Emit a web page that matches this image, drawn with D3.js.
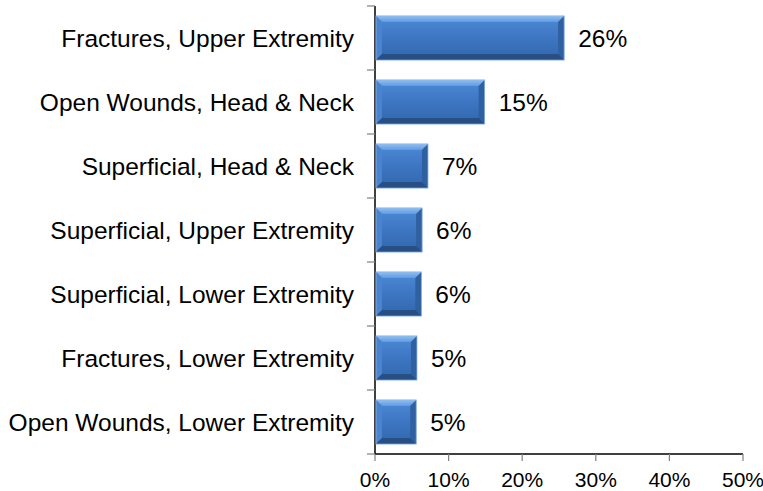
<!DOCTYPE html>
<html><head><meta charset="utf-8">
<script src="https://cdn.jsdelivr.net/npm/d3@7"></script>
<style>html,body{margin:0;padding:0;background:#fff;overflow:hidden}svg{display:block}</style>
</head><body>
<svg id="chart" width="763" height="491"></svg>
<script>
const categories = ["Fractures, Upper Extremity","Open Wounds, Head & Neck","Superficial, Head & Neck","Superficial, Upper Extremity","Superficial, Lower Extremity","Fractures, Lower Extremity","Open Wounds, Lower Extremity"];
const values = [25.7, 14.9, 7.2, 6.4, 6.3, 5.7, 5.6];
const valueLabels = ["26%","15%","7%","6%","6%","5%","5%"];
const xTicks = [0,10,20,30,40,50];

const svg = d3.select("#chart");
const font = "'Liberation Sans', Arial, sans-serif";
const x = d3.scaleLinear().domain([0,50]).range([375,743]);
const y = d3.scaleBand().domain(categories).range([6,454]).paddingInner(0.31).paddingOuter(0.155);

const defs = svg.append("defs");
const g1 = defs.append("linearGradient").attr("id","face").attr("x1",0).attr("y1",0).attr("x2",0).attr("y2",1);
g1.append("stop").attr("offset","0%").attr("stop-color","#4f8ad6");
g1.append("stop").attr("offset","55%").attr("stop-color","#3b74c0");
g1.append("stop").attr("offset","100%").attr("stop-color","#3367ad");
const gt = defs.append("linearGradient").attr("id","topb").attr("x1",0).attr("y1",0).attr("x2",0).attr("y2",1);
gt.append("stop").attr("offset","0%").attr("stop-color","#8fc0f4");
gt.append("stop").attr("offset","100%").attr("stop-color","#5e9ae2");

// y axis
svg.append("line").attr("x1",375).attr("x2",375).attr("y1",6).attr("y2",454).attr("stroke","#000").attr("stroke-width",1.5);
const bandStep = y.step();
d3.range(categories.length+1).forEach(i=>{
  const yy = 6 + i*bandStep;
  svg.append("line").attr("x1",367).attr("x2",375).attr("y1",yy).attr("y2",yy).attr("stroke","#808080").attr("stroke-width",1.2);
});
// x axis
svg.append("line").attr("x1",375).attr("x2",x(50)).attr("y1",454).attr("y2",454).attr("stroke","#000").attr("stroke-width",1.5);
xTicks.forEach(t=>{
  svg.append("line").attr("x1",x(t)).attr("x2",x(t)).attr("y1",454).attr("y2",461).attr("stroke","#808080").attr("stroke-width",1.2);
  svg.append("text").attr("x",x(t)).attr("y",487).attr("text-anchor","middle")
    .attr("font-family",font).attr("font-size",21).attr("fill","#000").text(t+"%");
});

// bars
const bev = 6;
categories.forEach((c,i)=>{
  const x0 = x(0)+1, x1 = x(values[i]), y0 = y(c), h = y.bandwidth(), y1 = y0+h;
  const g = svg.append("g");
  g.append("rect").attr("x",x0).attr("y",y0).attr("width",x1-x0).attr("height",h).attr("fill","url(#face)");
  g.append("polygon").attr("points",[[x0,y0],[x1,y0],[x1-bev,y0+bev],[x0+bev,y0+bev]].join(" ")).attr("fill","url(#topb)");
  g.append("polygon").attr("points",[[x0,y0],[x0+bev,y0+bev],[x0+bev,y1-bev],[x0,y1]].join(" ")).attr("fill","#4a84d0");
  g.append("polygon").attr("points",[[x1,y0],[x1,y1],[x1-bev,y1-bev],[x1-bev,y0+bev]].join(" ")).attr("fill","#2f609f");
  g.append("polygon").attr("points",[[x0,y1],[x1,y1],[x1-bev,y1-bev],[x0+bev,y1-bev]].join(" ")).attr("fill","#274f86");
  g.append("rect").attr("x",x0).attr("y",y0).attr("width",x1-x0).attr("height",h).attr("fill","none").attr("stroke","#8fb4e0").attr("stroke-width",0.8);
  svg.append("text").attr("x",x1+14).attr("y",y0+h/2+8.5).attr("font-family",font).attr("font-size",24.5).attr("fill","#000").text(valueLabels[i]);
  svg.append("text").attr("x",354).attr("y",y0+h/2+8.5).attr("text-anchor","end").attr("font-family",font).attr("font-size",24.5).attr("fill","#000").text(c);
});
</script>
</body></html>
